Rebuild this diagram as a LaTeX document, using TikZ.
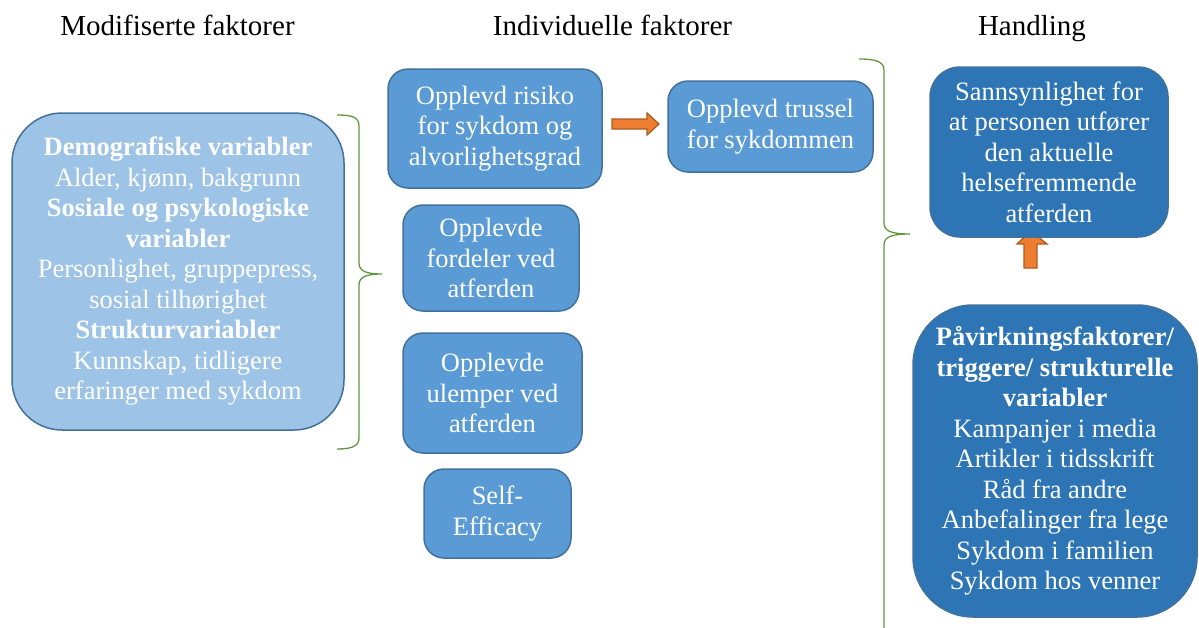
\documentclass[tikz,border=0pt]{standalone}
\usepackage{fontspec}
\setmainfont{Liberation Serif}
\usetikzlibrary{calc}
\definecolor{lightfill}{HTML}{9DC3E6}
\definecolor{midfill}{HTML}{5B9BD5}
\definecolor{darkfill}{HTML}{2E75B6}
\definecolor{edgeblue}{HTML}{41719C}
\definecolor{arrfill}{HTML}{ED7D31}
\definecolor{arredge}{HTML}{AE5A21}
\definecolor{bracegreen}{HTML}{62973F}
\begin{document}
\begin{tikzpicture}[x=1pt,y=-1pt,
  hdr/.style={font=\fontsize{29}{33}\selectfont, anchor=base, inner sep=0pt},
  box/.style={draw=edgeblue, line width=1.5pt, text=white, align=center,
              font=\fontsize{26.5}{30.5}\selectfont, inner sep=0pt},
  lbox/.style={box, fill=lightfill, rounded corners=50pt},
  mbox/.style={box, fill=midfill, rounded corners=20pt},
  dbox/.style={box, fill=darkfill},
  blockarrow/.style={fill=arrfill, draw=arredge, line width=1.3pt, line join=miter},
  bracepath/.style={draw=bracegreen, line width=1.3pt}
]
\useasboundingbox (0,0) rectangle (1199,627);

% headers
\node[hdr] (h1) at (177.5,35) {Modifiserte faktorer};
\node[hdr] (h2) at (612.5,35) {Individuelle faktorer};
\node[hdr] (h3) at (1032,35) {Handling};

% left box
\node[lbox, minimum width=332pt, minimum height=317pt] (L) at (178,271.5)
 {\textbf{Demografiske variabler}\\Alder, kjønn, bakgrunn\\\textbf{Sosiale og psykologiske}\\\textbf{variabler}\\Personlighet, gruppepress,\\sosial tilhørighet\\\textbf{Strukturvariabler}\\Kunnskap, tidligere\\erfaringer med sykdom};

% left brace
\coordinate (lb1) at (337,115);
\coordinate (lbt) at (382,274);
\coordinate (lb2) at (337,449);
\draw[bracepath] (lb1) .. controls (352,115) and (359,117) .. (359,126) -- (359,263)
  .. controls (359,271) and (366,274) .. (lbt)
  .. controls (366,274) and (359,277) .. (359,285) -- (359,438)
  .. controls (359,446) and (352,449) .. (lb2);

% middle boxes
\node[mbox, minimum width=214pt, minimum height=119pt] (r1) at (495,128.5)
 {Opplevd risiko\\for sykdom og\\alvorlighetsgrad};
\node[mbox, minimum width=176pt, minimum height=106pt] (r2) at (491,258)
 {Opplevde\\fordeler ved\\atferden};
\node[mbox, minimum width=179pt, minimum height=120pt] (r3) at (492.5,393)
 {Opplevde\\ulemper ved\\atferden};
\node[mbox, minimum width=147pt, minimum height=89pt] (r4) at (497.5,513.5)
 {Self-\\Efficacy};
\node[mbox, minimum width=205pt, minimum height=91pt] (tr) at (770.5,126.5)
 {Opplevd trussel\\for sykdommen};

% right arrow between r1 and tr
\draw[blockarrow] (612,119) -- (647,119) -- (647,113) -- (659,124) -- (647,135)
  -- (647,129) -- (612,129) -- cycle;

% right brace
\coordinate (rb1) at (859,59);
\coordinate (rbt) at (910,234);
\coordinate (rb2) at (884,640);
\draw[bracepath] (rb1) .. controls (874,59) and (884,61) .. (884,70) -- (884,223)
  .. controls (884,231) and (891,234) .. (rbt)
  .. controls (891,234) and (884,237) .. (884,245) -- (rb2);

% up arrow (drawn before the box so its tip tucks under it)
\draw[blockarrow] (1024,268) -- (1024,244) -- (1017,244) -- (1031,231) -- (1047,244)
  -- (1037,244) -- (1037,268) -- cycle;

% right boxes
\node[dbox, rounded corners=30pt, minimum width=238pt, minimum height=170pt] (sa) at (1049,152)
 {Sannsynlighet for\\at personen utfører\\den aktuelle\\helsefremmende\\atferden};
\node[dbox, rounded corners=60pt, minimum width=284pt, minimum height=312pt] (pa) at (1055,461)
 {\textbf{Påvirkningsfaktorer/}\\\textbf{triggere/ strukturelle}\\\textbf{variabler}\\Kampanjer i media\\Artikler i tidsskrift\\Råd fra andre\\Anbefalinger fra lege\\Sykdom i familien\\Sykdom hos venner};
\end{tikzpicture}
\end{document}
